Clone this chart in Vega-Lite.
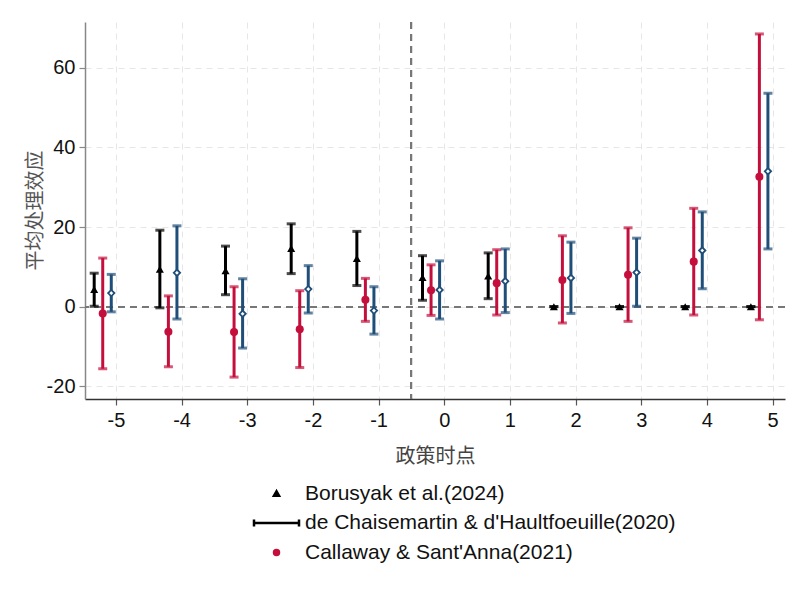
{
  "$schema": "https://vega.github.io/schema/vega-lite/v6.json",
  "autosize": {"type": "none"},
  "padding": {"left": 85, "top": 22, "right": 15, "bottom": 201},
  "width": 700,
  "height": 377,
  "background": "white",
  "config": {
    "view": {"stroke": null},
    "font": "Liberation Sans",
    "axis": {
      "grid": true,
      "gridColor": "#e6e6e6",
      "gridDash": [6, 5],
      "gridWidth": 1,
      "labelFont": "Liberation Sans",
      "labelFontSize": 20,
      "labelColor": "#111",
      "tickSize": 6,
      "labelPadding": 4
    }
  },
  "datasets": {
    "est": [
      {"series": "Borusyak et al.(2024)", "t": -5, "pos": -5.33, "b": 4.3, "lo": 0.1, "hi": 8.4},
      {"series": "Borusyak et al.(2024)", "t": -4, "pos": -4.33, "b": 9.4, "lo": -0.3, "hi": 19.2},
      {"series": "Borusyak et al.(2024)", "t": -3, "pos": -3.33, "b": 9.0, "lo": 3.0, "hi": 15.2},
      {"series": "Borusyak et al.(2024)", "t": -2, "pos": -2.33, "b": 14.6, "lo": 8.3, "hi": 20.8},
      {"series": "Borusyak et al.(2024)", "t": -1, "pos": -1.33, "b": 12.1, "lo": 5.3, "hi": 18.9},
      {"series": "Borusyak et al.(2024)", "t": 0, "pos": -0.33, "b": 7.3, "lo": 1.6, "hi": 12.8},
      {"series": "Borusyak et al.(2024)", "t": 1, "pos": 0.67, "b": 7.7, "lo": 2.0, "hi": 13.5},
      {"series": "Borusyak et al.(2024)", "t": 2, "pos": 1.67, "b": 0, "lo": 0, "hi": 0},
      {"series": "Borusyak et al.(2024)", "t": 3, "pos": 2.67, "b": 0, "lo": 0, "hi": 0},
      {"series": "Borusyak et al.(2024)", "t": 4, "pos": 3.67, "b": 0, "lo": 0, "hi": 0},
      {"series": "Borusyak et al.(2024)", "t": 5, "pos": 4.67, "b": 0, "lo": 0, "hi": 0},
      {"series": "Callaway & Sant'Anna(2021)", "t": -5, "pos": -5.2, "b": -1.7, "lo": -15.6, "hi": 12.2},
      {"series": "Callaway & Sant'Anna(2021)", "t": -4, "pos": -4.2, "b": -6.3, "lo": -15.1, "hi": 2.7},
      {"series": "Callaway & Sant'Anna(2021)", "t": -3, "pos": -3.2, "b": -6.4, "lo": -17.7, "hi": 5.0},
      {"series": "Callaway & Sant'Anna(2021)", "t": -2, "pos": -2.2, "b": -5.7, "lo": -15.3, "hi": 4.0},
      {"series": "Callaway & Sant'Anna(2021)", "t": -1, "pos": -1.2, "b": 1.7, "lo": -3.7, "hi": 7.1},
      {"series": "Callaway & Sant'Anna(2021)", "t": 0, "pos": -0.2, "b": 4.1, "lo": -2.2, "hi": 10.5},
      {"series": "Callaway & Sant'Anna(2021)", "t": 1, "pos": 0.8, "b": 5.9, "lo": -2.1, "hi": 14.3},
      {"series": "Callaway & Sant'Anna(2021)", "t": 2, "pos": 1.8, "b": 6.7, "lo": -4.1, "hi": 17.8},
      {"series": "Callaway & Sant'Anna(2021)", "t": 3, "pos": 2.8, "b": 8.0, "lo": -3.7, "hi": 19.8},
      {"series": "Callaway & Sant'Anna(2021)", "t": 4, "pos": 3.8, "b": 11.3, "lo": -2.1, "hi": 24.7},
      {"series": "Callaway & Sant'Anna(2021)", "t": 5, "pos": 4.8, "b": 32.6, "lo": -3.3, "hi": 68.5},
      {"series": "Other estimator", "t": -5, "pos": -5.07, "b": 3.4, "lo": -1.3, "hi": 8.1},
      {"series": "Other estimator", "t": -4, "pos": -4.07, "b": 8.5, "lo": -3.1, "hi": 20.3},
      {"series": "Other estimator", "t": -3, "pos": -3.07, "b": -1.8, "lo": -10.4, "hi": 7.0},
      {"series": "Other estimator", "t": -2, "pos": -2.07, "b": 4.4, "lo": -1.6, "hi": 10.3},
      {"series": "Other estimator", "t": -1, "pos": -1.07, "b": -1.0, "lo": -6.9, "hi": 5.0},
      {"series": "Other estimator", "t": 0, "pos": -0.07, "b": 4.2, "lo": -3.1, "hi": 11.5},
      {"series": "Other estimator", "t": 1, "pos": 0.93, "b": 6.4, "lo": -1.5, "hi": 14.5},
      {"series": "Other estimator", "t": 2, "pos": 1.93, "b": 7.2, "lo": -1.7, "hi": 16.2},
      {"series": "Other estimator", "t": 3, "pos": 2.93, "b": 8.6, "lo": 0.1, "hi": 17.2},
      {"series": "Other estimator", "t": 4, "pos": 3.93, "b": 14.1, "lo": 4.5, "hi": 23.8},
      {"series": "Other estimator", "t": 5, "pos": 4.93, "b": 34.0, "lo": 14.5, "hi": 53.6}
    ]
  },
  "data": {"name": "est"},
  "encoding": {
    "x": {
      "field": "pos", "type": "quantitative",
      "scale": {"domain": [-5.47, 5.19], "nice": false, "zero": false},
      "axis": {
        "grid": true,
        "values": [-5, -4, -3, -2, -1, 0, 1, 2, 3, 4, 5],
        "labelExpr": "'' + datum.value",
        "title": "政策时点",
        "titleFont": "Noto Sans CJK SC",
        "titleFontSize": 20,
        "titleFontWeight": "normal",
        "titleColor": "#444",
        "titleBaseline": "middle",
        "titleY": 57,
        "domainColor": "#333",
        "domainWidth": 1.5,
        "tickColor": "#555",
        "tickWidth": 1.2,
        "labelPadding": 5
      }
    },
    "y": {
      "field": "b",
      "type": "quantitative",
      "scale": {"domain": [-23.2, 71.5], "nice": false, "zero": false},
      "axis": {
        "grid": true,
        "values": [-20, 0, 20, 40, 60],
        "labelExpr": "'' + datum.value",
        "title": "平均处理效应",
        "titleFont": "Noto Sans CJK SC",
        "titleFontSize": 20,
        "titleFontWeight": "normal",
        "titleColor": "#555",
        "titleX": -50,
        "titleY": 188,
        "titleAngle": -90,
        "titleAlign": "center",
        "titleBaseline": "middle",
        "domainColor": "#888",
        "domainWidth": 1.5,
        "tickColor": "#888",
        "tickWidth": 1.2
      }
    }
  },
  "layer": [
    {
      "mark": {"type": "rule", "color": "#777", "strokeDash": [7, 5], "strokeWidth": 1.3},
      "encoding": {"y": {"datum": 0}, "x": null}
    },
    {
      "mark": {"type": "rule", "color": "#777", "strokeDash": [7, 5], "strokeWidth": 1.3},
      "encoding": {"x": {"datum": -0.5}, "y": null}
    },
    {
      "transform": [{"filter": {"field": "series", "equal": "Borusyak et al.(2024)"}}],
      "mark": {"type": "rule", "strokeWidth": 3, "color": "#000000"},
      "encoding": {"y": {"field": "lo", "type": "quantitative"}, "y2": {"field": "hi"}}
    },
    {
      "transform": [{"filter": {"field": "series", "equal": "Borusyak et al.(2024)"}}],
      "mark": {"type": "tick", "orient": "horizontal", "size": 9, "thickness": 3, "color": "#000000"},
      "encoding": {"y": {"field": "hi", "type": "quantitative"}}
    },
    {
      "transform": [{"filter": {"field": "series", "equal": "Borusyak et al.(2024)"}}],
      "mark": {"type": "tick", "orient": "horizontal", "size": 9, "thickness": 3, "color": "#000000"},
      "encoding": {"y": {"field": "lo", "type": "quantitative"}}
    },
    {
      "transform": [{"filter": {"field": "series", "equal": "Callaway & Sant'Anna(2021)"}}],
      "mark": {"type": "rule", "strokeWidth": 3, "color": "#C40F3C"},
      "encoding": {"y": {"field": "lo", "type": "quantitative"}, "y2": {"field": "hi"}}
    },
    {
      "transform": [{"filter": {"field": "series", "equal": "Callaway & Sant'Anna(2021)"}}],
      "mark": {"type": "tick", "orient": "horizontal", "size": 9, "thickness": 3, "color": "#C40F3C"},
      "encoding": {"y": {"field": "hi", "type": "quantitative"}}
    },
    {
      "transform": [{"filter": {"field": "series", "equal": "Callaway & Sant'Anna(2021)"}}],
      "mark": {"type": "tick", "orient": "horizontal", "size": 9, "thickness": 3, "color": "#C40F3C"},
      "encoding": {"y": {"field": "lo", "type": "quantitative"}}
    },
    {
      "transform": [{"filter": {"field": "series", "equal": "Other estimator"}}],
      "mark": {"type": "rule", "strokeWidth": 3, "color": "#1F4E79"},
      "encoding": {"y": {"field": "lo", "type": "quantitative"}, "y2": {"field": "hi"}}
    },
    {
      "transform": [{"filter": {"field": "series", "equal": "Other estimator"}}],
      "mark": {"type": "tick", "orient": "horizontal", "size": 9, "thickness": 3, "color": "#1F4E79"},
      "encoding": {"y": {"field": "hi", "type": "quantitative"}}
    },
    {
      "transform": [{"filter": {"field": "series", "equal": "Other estimator"}}],
      "mark": {"type": "tick", "orient": "horizontal", "size": 9, "thickness": 3, "color": "#1F4E79"},
      "encoding": {"y": {"field": "lo", "type": "quantitative"}}
    },
    {
      "transform": [{"filter": {"field": "series", "oneOf": ["Borusyak et al.(2024)", "Callaway & Sant'Anna(2021)"]}}],
      "mark": {"type": "point", "filled": true, "size": 65, "opacity": 1},
      "encoding": {
        "color": {
          "field": "series", "type": "nominal",
          "scale": {"domain": ["Borusyak et al.(2024)", "de Chaisemartin & d'Haultfoeuille(2020)", "Callaway & Sant'Anna(2021)"], "range": ["#000000", "#000000", "#C40F3C"]},
          "legend": {
            "values": ["Borusyak et al.(2024)", "de Chaisemartin & d'Haultfoeuille(2020)", "Callaway & Sant'Anna(2021)"],
            "orient": "none",
            "legendX": 181,
            "legendY": 461,
            "title": null,
            "padding": 0,
            "symbolOffset": 0,
            "symbolSize": 25,
            "labelOffset": 18,
            "labelFont": "Liberation Sans",
            "labelFontSize": 21,
            "labelColor": "#111",
            "labelLimit": 600,
            "rowPadding": 7.5,
            "symbolOpacity": 1,
            "encode": {
              "symbols": {
                "update": {
                  "stroke": {"scale": "color", "field": "value"},
                  "strokeWidth": {"value": 2.5}
                }
              }
            }
          }
        },
        "shape": {
          "field": "series", "type": "nominal",
          "scale": {"domain": ["Borusyak et al.(2024)", "de Chaisemartin & d'Haultfoeuille(2020)", "Callaway & Sant'Anna(2021)"], "range": ["triangle-up", "M-9,0H9M-9,-1.4V1.4M9,-1.4V1.4", "circle"]},
          "legend": {
            "values": ["Borusyak et al.(2024)", "de Chaisemartin & d'Haultfoeuille(2020)", "Callaway & Sant'Anna(2021)"],
            "orient": "none",
            "legendX": 181,
            "legendY": 461,
            "title": null
          }
        }
      }
    },
    {
      "transform": [{"filter": {"field": "series", "equal": "Other estimator"}}],
      "mark": {"type": "point", "shape": "diamond", "fill": "white", "stroke": "#1F4E79", "strokeWidth": 1.8, "size": 40, "opacity": 1}
    }
  ]
}
